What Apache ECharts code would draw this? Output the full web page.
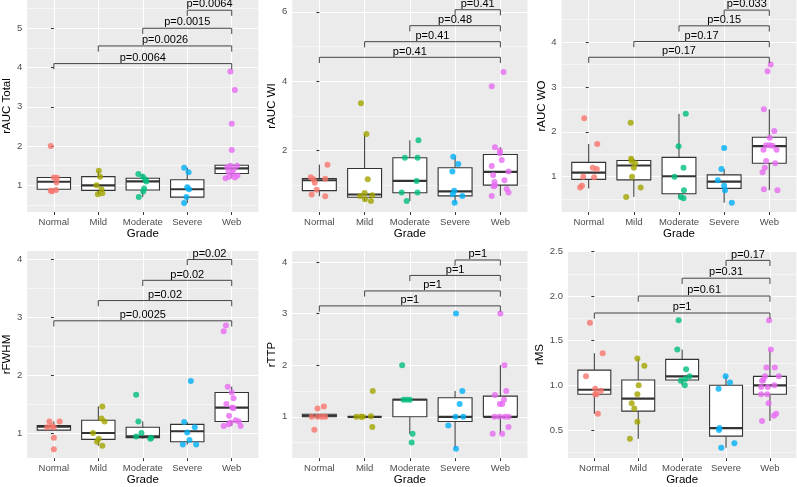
<!DOCTYPE html>
<html><head><meta charset="utf-8">
<script src="https://cdn.jsdelivr.net/npm/echarts@6/dist/echarts.min.js"></script>
<style>html,body{margin:0;padding:0;background:#fff}#c{width:797px;height:487px}</style>
</head><body><div id="c"></div>
<script>
// ---------- data ----------
const grades = ['Normal', 'Mild', 'Moderate', 'Severe', 'Web'];
const gradeColors = ['#F8766D', '#A3A500', '#00BF7D', '#00B0F6', '#E76BF3'];
const bracketFrom = [0, 1, 2, 3]; // each compared with Web (index 4)
const bracketTo = 4;

// rAUC Total
const totalPoints = [
  [2.0, 1.2, 1.19, 1.07, 0.88, 0.86, 0.85],
  [1.37, 1.22, 1.0, 0.9, 0.8, 0.77],
  [1.29, 1.22, 1.15, 1.1, 0.92, 0.84, 0.7],
  [1.45, 1.33, 0.95, 0.9, 0.7, 0.55],
  [3.9, 3.43, 2.57, 1.9, 1.5, 1.5, 1.46, 1.4, 1.35, 1.3, 1.22, 1.2, 1.18, 1.25]
];
const totalJitter = [
  [-0.07, 0.0, 0.07, 0.06, 0.05, -0.07, -0.04],
  [0.01, 0.04, -0.04, 0.07, 0.09, -0.01],
  [-0.1, 0.0, 0.06, 0.08, 0.03, 0.01, -0.09],
  [-0.07, 0.03, 0.0, 0.04, -0.02, -0.07],
  [-0.03, 0.07, 0.0, 0.0, 0.12, -0.03, -0.1, 0.04, -0.07, 0.01, -0.06, 0.07, -0.14, 0.13]
];
const totalBox = [
  [0.85, 0.9, 1.09, 1.2, 1.2],
  [0.77, 0.87, 1.0, 1.22, 1.37],
  [0.7, 0.88, 1.1, 1.18, 1.29],
  [0.55, 0.7, 0.9, 1.14, 1.45],
  [1.18, 1.3, 1.43, 1.51, 1.51]
];
const totalBracketY = [4.1, 4.55, 5.0, 5.46];
const totalP = ['p=0.0064', 'p=0.0026', 'p=0.0015', 'p=0.0064'];
const totalTicks = [1, 2, 3, 4, 5];
const totalMinor = [0.5, 1.5, 2.5, 3.5, 4.5, 5.5];
const totalRange = [0.32, 5.72];

// rAUC WI
const wiPoints = [
  [1.6, 1.24, 1.18, 1.19, 1.08, 0.88, 0.74, 0.69],
  [3.37, 2.48, 1.18, 0.78, 0.72, 0.7, 0.6, 0.55],
  [2.3, 1.8, 1.8, 1.13, 0.8, 0.8, 0.55],
  [1.83, 1.62, 1.4, 0.85, 0.75, 0.7, 0.5],
  [4.27, 3.86, 2.1, 2.0, 1.93, 1.73, 1.56, 1.4, 1.3, 1.15, 1.1, 1.0, 0.98, 0.9, 0.8, 0.7]
];
const wiJitter = [
  [0.18, -0.19, -0.13, 0.13, -0.1, -0.06, -0.17, 0.13],
  [-0.08, 0.04, 0.07, 0.0, 0.17, -0.1, 0.01, 0.14],
  [0.19, -0.11, 0.17, 0.15, -0.18, 0.17, -0.07],
  [-0.04, 0.07, -0.06, -0.02, -0.05, 0.16, -0.01],
  [0.07, -0.19, -0.12, -0.01, -0.01, 0.03, -0.19, 0.18, -0.16, 0.09, -0.13, -0.12, -0.15, 0.14, 0.18, -0.19]
];
const wiBox = [
  [0.69, 0.85, 1.15, 1.2, 1.6],
  [0.55, 0.66, 0.74, 1.49, 2.48],
  [0.55, 0.79, 1.13, 1.8, 2.3],
  [0.5, 0.7, 0.83, 1.51, 1.83],
  [0.7, 1.01, 1.39, 1.89, 2.1]
];
const wiBracketY = [4.69, 5.14, 5.6, 6.06];
const wiP = ['p=0.41', 'p=0.41', 'p=0.48', 'p=0.41'];
const wiTicks = [2, 4, 6];
const wiMinor = [1, 3, 5];
const wiRange = [0.236, 6.34];

// rAUC WO
const woPoints = [
  [2.3, 1.73, 1.2, 1.17, 1.0, 0.99, 0.8, 0.76],
  [2.2, 1.4, 1.35, 1.3, 1.2, 1.0, 0.76, 0.55],
  [2.4, 1.68, 1.2, 1.0, 0.7, 0.55, 0.52],
  [1.64, 1.17, 0.92, 0.8, 0.7, 0.42],
  [3.5, 3.35, 2.5, 2.02, 1.87, 1.7, 1.7, 1.69, 1.6, 1.6, 1.35, 1.3, 1.2, 1.1, 0.72, 0.7]
];
const woJitter = [
  [-0.1, 0.19, 0.09, 0.18, -0.12, 0.12, -0.15, -0.19],
  [-0.07, -0.06, -0.05, 0.03, 0.0, -0.04, 0.15, -0.17],
  [0.15, -0.01, 0.1, -0.1, 0.11, 0.04, 0.1],
  [0.0, -0.06, -0.14, 0.0, 0.02, 0.17],
  [0.03, -0.04, -0.12, 0.11, 0.01, -0.07, 0.01, 0.07, -0.13, 0.16, -0.07, 0.13, -0.1, -0.15, -0.12, 0.18]
];
const woBox = [
  [0.74, 0.94, 1.09, 1.32, 1.73],
  [0.55, 0.93, 1.25, 1.36, 1.4],
  [0.52, 0.62, 1.01, 1.43, 2.4],
  [0.42, 0.74, 0.89, 1.04, 1.17],
  [0.7, 1.3, 1.68, 1.88, 2.5]
];
const woBracketY = [3.66, 4.01, 4.36, 4.71];
const woP = ['p=0.17', 'p=0.17', 'p=0.15', 'p=0.033'];
const woTicks = [1, 2, 3, 4];
const woMinor = [0.5, 1.5, 2.5, 3.5, 4.5];
const woRange = [0.214, 4.935];

// rFWHM
const fwhmPoints = [
  [1.2, 1.2, 1.1, 1.1, 1.12, 0.92, 0.72],
  [1.46, 1.25, 1.2, 1.0, 0.9, 0.85, 0.78],
  [1.66, 1.2, 1.0, 0.94, 0.92, 0.9],
  [1.9, 1.19, 1.1, 1.01, 0.88, 0.8, 0.8],
  [2.86, 2.76, 1.8, 1.7, 1.6, 1.5, 1.44, 1.43, 1.3, 1.22, 1.2, 1.18, 1.15, 1.12, 1.12]
];
const fwhmJitter = [
  [-0.1, 0.13, -0.15, 0.0, -0.05, 0.0, 0.0],
  [0.09, 0.07, 0.14, -0.12, 0.01, -0.03, 0.09],
  [-0.15, -0.1, -0.03, -0.15, 0.19, 0.17],
  [0.08, -0.07, 0.17, 0.0, 0.05, -0.1, 0.2],
  [-0.13, -0.18, -0.09, 0.0, 0.04, -0.12, 0.01, 0.04, -0.06, 0.09, 0.16, -0.03, -0.07, -0.18, 0.2]
];
const fwhmBox = [
  [1.05, 1.05, 1.11, 1.13, 1.2],
  [0.78, 0.89, 1.0, 1.22, 1.46],
  [0.9, 0.92, 0.94, 1.1, 1.2],
  [0.8, 0.85, 1.03, 1.15, 1.19],
  [1.12, 1.2, 1.44, 1.7, 1.8]
];
const fwhmBracketY = [2.94, 3.29, 3.64, 4.0];
const fwhmP = ['p=0.0025', 'p=0.02', 'p=0.02', 'p=0.02'];
const fwhmTicks = [1, 2, 3, 4];
const fwhmMinor = [1.5, 2.5, 3.5];
const fwhmRange = [0.566, 4.147];

// rTTP
const ttpPoints = [
  [1.2, 1.16, 1.0, 1.0, 1.0, 1.0, 0.75],
  [1.5, 1.01, 1.0, 1.0, 1.0, 0.8],
  [2.0, 1.33, 1.33, 1.33, 0.67, 0.5],
  [3.0, 1.5, 1.25, 1.0, 1.0, 0.83, 0.38],
  [3.0, 2.0, 1.5, 1.42, 1.33, 1.25, 1.25, 1.0, 1.0, 1.0, 1.0, 0.8, 0.67, 0.67]
];
const ttpJitter = [
  [0.1, -0.04, -0.17, -0.04, 0.05, 0.13, -0.11],
  [0.18, 0.14, -0.18, -0.08, -0.04, 0.17],
  [-0.17, -0.14, -0.07, 0.0, 0.06, 0.04],
  [0.02, 0.16, 0.1, 0.01, 0.18, -0.15, 0.02],
  [0.0, 0.09, 0.13, -0.12, 0.08, -0.01, 0.04, -0.13, -0.02, 0.1, 0.18, 0.18, -0.17, 0.04]
];
const ttpBox = [
  [1.0, 1.0, 1.02, 1.05, 1.05],
  [1.0, 1.0, 1.0, 1.0, 1.0],
  [0.67, 1.0, 1.33, 1.34, 1.34],
  [0.38, 0.91, 1.0, 1.37, 1.5],
  [0.67, 1.0, 1.0, 1.4, 2.0]
];
const ttpBracketY = [3.15, 3.44, 3.74, 4.04];
const ttpP = ['p=1', 'p=1', 'p=1', 'p=1'];
const ttpTicks = [1, 2, 3, 4];
const ttpMinor = [0.5, 1.5, 2.5, 3.5];
const ttpRange = [0.199, 4.214];

// rMS
const msPoints = [
  [1.7, 1.36, 1.1, 0.96, 0.94, 0.9, 0.9, 0.68],
  [1.3, 1.22, 1.0, 0.9, 0.8, 0.74, 0.59, 0.4],
  [1.73, 1.4, 1.18, 1.1, 1.07, 1.05, 1.0],
  [1.1, 1.03, 0.96, 0.52, 0.5, 0.35, 0.3],
  [1.73, 1.4, 1.2, 1.2, 1.1, 1.1, 1.06, 1.05, 1.0, 0.98, 0.98, 0.9, 0.9, 0.8, 0.68, 0.66, 0.6]
];
const msJitter = [
  [-0.1, 0.19, -0.19, 0.02, 0.15, 0.02, 0.05, 0.08],
  [-0.02, 0.14, 0.01, -0.02, -0.15, -0.09, -0.02, -0.19],
  [-0.08, -0.11, 0.09, 0.17, 0.07, -0.03, 0.06],
  [-0.01, 0.09, -0.17, -0.15, -0.16, 0.19, -0.11],
  [-0.02, 0.02, -0.08, 0.11, -0.11, 0.2, -0.15, -0.18, 0.1, -0.2, -0.05, -0.2, -0.06, -0.03, 0.14, 0.09, -0.18]
];
const msBox = [
  [0.68, 0.9, 0.95, 1.17, 1.36],
  [0.4, 0.71, 0.85, 1.06, 1.3],
  [1.0, 1.06, 1.1, 1.29, 1.4],
  [0.3, 0.43, 0.52, 1.0, 1.1],
  [0.6, 0.9, 1.0, 1.1, 1.4]
];
const msBracketY = [1.81, 2.0, 2.2, 2.4];
const msP = ['p=1', 'p=0.61', 'p=0.31', 'p=0.17'];
const msTicks = [0.5, 1.0, 1.5, 2.0, 2.5];
const msMinor = [0.25, 0.75, 1.25, 1.75, 2.25];
const msRange = [0.184, 2.505];

// ---------- assembly ----------
const panels = [
  { name: 'rAUC Total', pts: totalPoints, jit: totalJitter, box: totalBox, by: totalBracketY, p: totalP, ticks: totalTicks, minor: totalMinor, range: totalRange, dec: 0 },
  { name: 'rAUC WI', pts: wiPoints, jit: wiJitter, box: wiBox, by: wiBracketY, p: wiP, ticks: wiTicks, minor: wiMinor, range: wiRange, dec: 0 },
  { name: 'rAUC WO', pts: woPoints, jit: woJitter, box: woBox, by: woBracketY, p: woP, ticks: woTicks, minor: woMinor, range: woRange, dec: 0 },
  { name: 'rFWHM', pts: fwhmPoints, jit: fwhmJitter, box: fwhmBox, by: fwhmBracketY, p: fwhmP, ticks: fwhmTicks, minor: fwhmMinor, range: fwhmRange, dec: 0 },
  { name: 'rTTP', pts: ttpPoints, jit: ttpJitter, box: ttpBox, by: ttpBracketY, p: ttpP, ticks: ttpTicks, minor: ttpMinor, range: ttpRange, dec: 0 },
  { name: 'rMS', pts: msPoints, jit: msJitter, box: msBox, by: msBracketY, p: msP, ticks: msTicks, minor: msMinor, range: msRange, dec: 1 }
];

// layout (pixels)
const rects = [
  { left: 23.6, top: 0, width: 234.8, height: 212, yNameGap: 6.5 },
  { left: 292.2, top: 0, width: 235.3, height: 212, yNameGap: 7.5 },
  { left: 561.6, top: 0, width: 234.8, height: 212, yNameGap: 11.3 },
  { left: 23.6, top: 251, width: 234.8, height: 212, yNameGap: 6.3 },
  { left: 292.2, top: 251, width: 235.3, height: 212, yNameGap: 7.4 },
  { left: 568, top: 251, width: 228.3, height: 212, yNameGap: 17.3 }
];

const FONT = '"Liberation Sans", Arial, Helvetica, sans-serif';
const BOX_WIDTH = 0.75;
const TIP = 5.7;

function makeBoxRenderer() {
  return function (params, api) {
    const x = api.value(0);
    const lo = api.coord([x, api.value(1)]);
    const q1 = api.coord([x, api.value(2)]);
    const md = api.coord([x, api.value(3)]);
    const q3 = api.coord([x, api.value(4)]);
    const hi = api.coord([x, api.value(5)]);
    const hw = api.size([BOX_WIDTH, 0])[0] / 2;
    const cx = q1[0];
    const stroke = '#333333';
    return {
      type: 'group',
      children: [
        { type: 'line', shape: { x1: cx, y1: q3[1], x2: cx, y2: hi[1] }, style: { stroke, lineWidth: 1 } },
        { type: 'line', shape: { x1: cx, y1: q1[1], x2: cx, y2: lo[1] }, style: { stroke, lineWidth: 1 } },
        { type: 'rect', shape: { x: cx - hw, y: q3[1], width: 2 * hw, height: q1[1] - q3[1] }, style: { fill: '#ffffff', stroke, lineWidth: 1.1 } },
        { type: 'line', shape: { x1: cx - hw, y1: md[1], x2: cx + hw, y2: md[1] }, style: { stroke, lineWidth: 2.2 } }
      ]
    };
  };
}

function makeBracketRenderer(labels) {
  return function (params, api) {
    const a = api.coord([api.value(0), api.value(2)]);
    const b = api.coord([api.value(1), api.value(2)]);
    return {
      type: 'group',
      children: [
        { type: 'polyline', shape: { points: [[a[0], a[1] + TIP], [a[0], a[1]], [b[0], b[1]], [b[0], b[1] + TIP]] },
          style: { stroke: '#444444', lineWidth: 1, fill: null } },
        { type: 'text', x: (a[0] + b[0]) / 2, y: a[1] - 0.3,
          style: { text: labels[params.dataIndex], align: 'center', verticalAlign: 'bottom', fill: '#000000', fontSize: 11, fontFamily: FONT } }
      ]
    };
  };
}

const grid = [], xAxis = [], yAxis = [], series = [];
panels.forEach((pn, k) => {
  const r = rects[k];
  grid.push({ left: r.left, top: r.top, width: r.width, height: r.height, show: true, backgroundColor: '#EBEBEB', borderWidth: 0, containLabel: false });
  xAxis.push({
    type: 'value', gridIndex: k, min: -0.6, max: 4.6,
    name: 'Grade', nameLocation: 'middle', nameGap: 13.5,
    nameTextStyle: { color: '#000', fontSize: 11.5, fontFamily: FONT },
    axisLine: { show: false },
    axisTick: { show: true, length: 3, lineStyle: { color: '#333' }, customValues: [0, 1, 2, 3, 4] },
    axisLabel: { customValues: [0, 1, 2, 3, 4], formatter: v => grades[Math.round(v)], color: '#4D4D4D', fontSize: 9.5, fontFamily: FONT, margin: 5 },
    splitLine: { show: true, lineStyle: { color: '#ffffff', width: 1 } }
  });
  yAxis.push({
    type: 'value', gridIndex: k, min: pn.range[0], max: pn.range[1], position: 'left',
    name: pn.name, nameLocation: 'middle', nameGap: r.yNameGap,
    nameTextStyle: { color: '#000', fontSize: 11.5, fontFamily: FONT },
    axisLine: { show: false },
    axisTick: { show: true, length: 3, lineStyle: { color: '#333' }, customValues: pn.ticks },
    axisLabel: { customValues: pn.ticks, formatter: v => v.toFixed(pn.dec), color: '#4D4D4D', fontSize: 9.5, fontFamily: FONT, margin: 5 },
    splitLine: { show: true, lineStyle: { color: '#ffffff', width: 1 } }
  });
  yAxis.push({
    type: 'value', gridIndex: k, min: pn.range[0], max: pn.range[1], position: 'left',
    axisLine: { show: false },
    axisTick: { show: false, customValues: pn.minor },
    axisLabel: { show: false, customValues: pn.minor },
    splitLine: { show: true, lineStyle: { color: '#ffffff', width: 0.5 } }
  });
  series.push({
    type: 'custom', xAxisIndex: k, yAxisIndex: 2 * k, z: 2,
    renderItem: makeBoxRenderer(),
    encode: { x: 0, y: [1, 2, 3, 4, 5] },
    data: pn.box.map((b, i) => [i].concat(b)),
    silent: true
  });
  const pts = [];
  pn.pts.forEach((vals, i) => {
    vals.forEach((v, j) => {
      pts.push({ value: [i + pn.jit[i][j], v], itemStyle: { color: gradeColors[i] } });
    });
  });
  series.push({
    type: 'scatter', xAxisIndex: k, yAxisIndex: 2 * k, z: 3,
    symbol: 'circle', symbolSize: 6, data: pts, silent: true
  });
  series.push({
    type: 'custom', xAxisIndex: k, yAxisIndex: 2 * k, z: 4,
    renderItem: makeBracketRenderer(pn.p),
    encode: { x: [0, 1], y: 2 },
    data: bracketFrom.map((f, j) => [f, bracketTo, pn.by[j]]),
    silent: true
  });
});

const chart = echarts.init(document.getElementById('c'), null, { renderer: 'canvas' });
chart.setOption({
  animation: false,
  textStyle: { fontFamily: FONT },
  grid, xAxis, yAxis, series
});
</script>
</body></html>
